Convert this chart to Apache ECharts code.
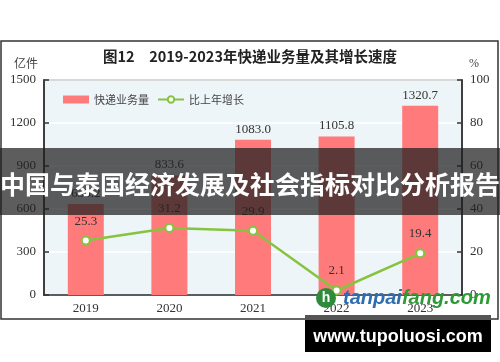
<!DOCTYPE html>
<html>
<head>
<meta charset="utf-8">
<script src="https://cdn.jsdelivr.net/npm/echarts@6/dist/echarts.min.js"></script>
<style>html,body{margin:0;padding:0;background:#fff;}#c{width:500px;height:362px;}</style>
</head>
<body>
<div id="c"></div>
<script>
const categories = ['2019', '2020', '2021', '2022', '2023'];
const volume = [635.2, 833.6, 1083.0, 1105.8, 1320.7];
const growth = [25.3, 31.2, 29.9, 2.1, 19.4];
const seriesNames = ['快递业务量', '比上年增长'];
const titleText = '图12　2019-2023年快递业务量及其增长速度';
const bannerText = '中国与泰国经济发展及社会指标对比分析报告';

const serif = '"Liberation Serif", "DejaVu Serif", serif';
const cjk = '"Noto Sans CJK SC", sans-serif';
const chart = echarts.init(document.getElementById('c'), null, {renderer: 'canvas'});
chart.setOption({
  animation: false,
  backgroundColor: '#fff',
  title: {
    text: titleText, left: 'center', top: 44,
    textStyle: {fontFamily: cjk, fontSize: 14.5, fontWeight: 'bold', color: '#222'}
  },
  legend: {
    left: 58, top: 89, itemGap: 8,
    textStyle: {fontFamily: cjk, fontSize: 11, color: '#444'},
    data: [
      {name: seriesNames[0], icon: 'rect', itemStyle: {color: '#FF7B7B'}},
      {name: seriesNames[1]}
    ],
    itemWidth: 26, itemHeight: 8
  },
  grid: {
    left: 44, right: 38, top: 80, bottom: 67,
    show: true, backgroundColor: '#EDF5F9', borderColor: '#333', borderWidth: 1.5
  },
  xAxis: {
    type: 'category', data: categories,
    axisLine: {lineStyle: {color: '#333', width: 1.5}},
    axisTick: {inside: true, length: 5, lineStyle: {color: '#333', width: 1.5}},
    axisLabel: {fontFamily: serif, fontSize: 13, color: '#333', margin: 7},
    splitLine: {show: false}
  },
  yAxis: [
    {
      type: 'value', min: 0, max: 1500, interval: 300,
      axisLine: {show: true, lineStyle: {color: '#333', width: 1.5}},
      axisTick: {show: true, inside: true, length: 5, lineStyle: {color: '#333', width: 1.5}},
      axisLabel: {fontFamily: serif, fontSize: 13, color: '#333', margin: 8, formatter: v => String(v)},
      splitLine: {show: true, lineStyle: {color: '#fff', width: 1.5}}
    },
    {
      type: 'value', min: 0, max: 100, interval: 20,
      axisLine: {show: true, lineStyle: {color: '#333', width: 1.5}},
      axisTick: {show: true, inside: true, length: 5, lineStyle: {color: '#333', width: 1.5}},
      axisLabel: {fontFamily: serif, fontSize: 13, color: '#333', margin: 8, formatter: v => String(v)},
      splitLine: {show: false}
    }
  ],
  series: [
    {
      name: seriesNames[0], type: 'bar', data: volume, barWidth: 36,
      itemStyle: {color: '#FF7B7B'},
      label: {show: true, position: 'top', distance: 4, fontFamily: serif, fontSize: 13, color: '#333',
        formatter: p => p.value.toFixed(1)}
    },
    {
      name: seriesNames[1], type: 'line', yAxisIndex: 1, data: growth,
      symbol: 'circle', symbolSize: 8,
      lineStyle: {color: '#86C440', width: 2.5},
      itemStyle: {color: '#fff', borderColor: '#86C440', borderWidth: 2},
      label: {show: true, position: 'top', distance: 8, fontFamily: serif, fontSize: 13, color: '#333',
        formatter: p => p.value.toFixed(1)},
      z: 5
    }
  ],
  graphic: [
    {type: 'rect', shape: {x: 1, y: 41, width: 497, height: 278}, style: {fill: 'none', stroke: '#333', lineWidth: 1.5}, z: 0},
    {type: 'text', x: 14, y: 57, style: {text: '亿件', font: '12px ' + cjk, fill: '#444'}},
    {type: 'text', x: 469, y: 58, style: {text: '%', font: '12px ' + serif, fill: '#444'}},
    {type: 'rect', shape: {x: 0, y: 148, width: 500, height: 67}, style: {fill: 'rgba(30,30,30,0.72)'}, z: 100},
    {type: 'text', x: 250, y: 184, style: {text: bannerText, font: 'bold 25px ' + cjk, fill: '#fff', align: 'center', verticalAlign: 'middle'}, z: 101},
    {type: 'circle', shape: {cx: 326, cy: 298, r: 10}, style: {fill: '#2E8B3A'}, z: 100},
    {type: 'text', x: 326, y: 298, style: {text: 'h', font: 'bold 14px "Liberation Sans"', fill: '#fff', align: 'center', verticalAlign: 'middle'}, z: 101},
    {type: 'text', x: 343, y: 298, style: {
      text: '{a|tanpai}{b|fang.com}', verticalAlign: 'middle',
      rich: {
        a: {font: 'italic bold 20px "Liberation Sans"', fill: '#2F6DAF', color: '#2F6DAF'},
        b: {font: 'italic bold 20px "Liberation Sans"', fill: '#2E9A35', color: '#2E9A35'}
      }}, z: 101},
    {type: 'rect', shape: {x: 305, y: 315, width: 186, height: 37}, style: {fill: '#000'}, z: 100},
    {type: 'rect', shape: {x: 305, y: 315, width: 186, height: 5}, style: {fill: '#555'}, z: 100},
    {type: 'text', x: 398, y: 337, style: {text: 'www.tupoluosi.com', font: 'bold 18px "Liberation Sans"', fill: '#fff', align: 'center', verticalAlign: 'middle'}, z: 101}
  ]
});
</script>
</body>
</html>
